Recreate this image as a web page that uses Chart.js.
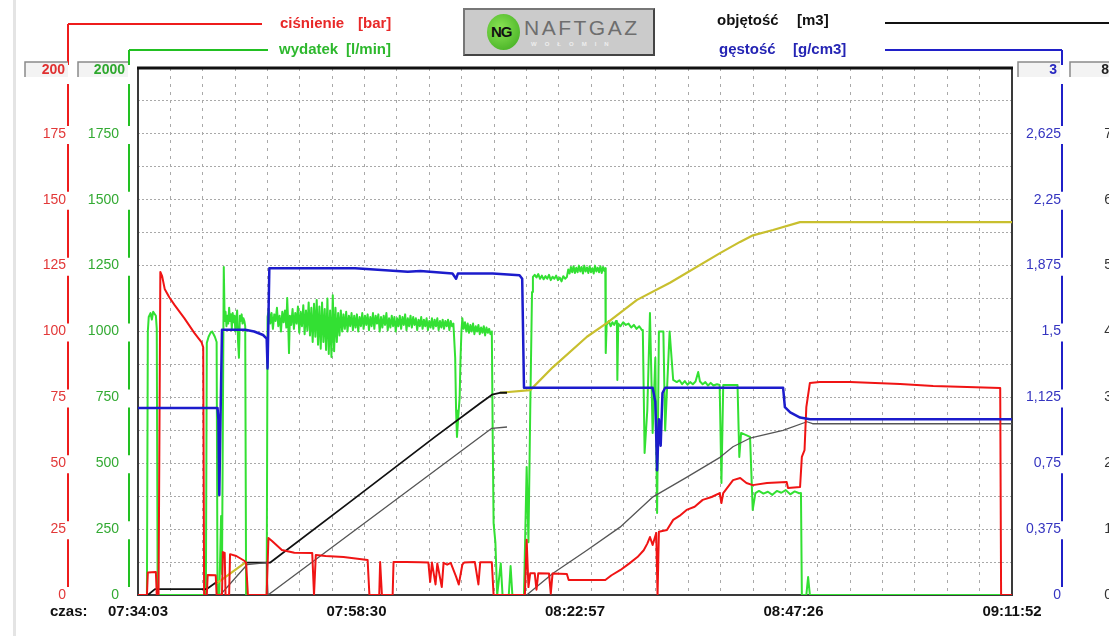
<!DOCTYPE html>
<html>
<head>
<meta charset="utf-8">
<script src="https://cdn.jsdelivr.net/npm/chart.js@4.4.1/dist/chart.umd.min.js"></script>
<style>
html, body { margin: 0; padding: 0; background: #fff; overflow: hidden; width: 1109px; height: 636px; }
#wrap { position: relative; width: 1130px; height: 636px; }
#edge { position: absolute; left: 13px; top: 0; width: 3px; height: 636px; background: #e4e4e4; }
canvas { position: absolute; left: 0; top: 0; }
#logo { position: absolute; left: 463px; top: 8px; width: 188px; height: 44px; background: #cbcbcb;
        border: 2px solid #444; border-top-color: #777; border-left-color: #777; z-index: 2; }
#ball { position: absolute; left: 22px; top: 4px; width: 33px; height: 36px; border-radius: 50%;
        background: radial-gradient(circle at 40% 40%, #8be455, #3aa81c); }
#ball b { position: absolute; left: 4px; top: 9px; font: bold 15px Arial, "Liberation Sans", sans-serif; color: #111; letter-spacing: -1px; }
#brand { position: absolute; left: 59px; top: 6px; font: 21px Arial, "Liberation Sans", sans-serif; color: #6e6e6e; letter-spacing: 2.5px; }
#town { position: absolute; left: 66px; top: 31px; font: bold 6px Arial, "Liberation Sans", sans-serif; color: #eee; letter-spacing: 8px; }
</style>
</head>
<body>
<div id="wrap">
  <div id="edge"></div>
  <canvas id="chart" width="1130" height="636"></canvas>
  <div id="logo">
    <div id="ball"><b>NG</b></div>
    <div id="brand">NAFTGAZ</div>
    <div id="town">WOŁOMIN</div>
  </div>
</div>
<script>
// time axis: minutes since 07:34:03, labels at the quarters
var span = 97.82;
var timeLabels = ['07:34:03', '07:58:30', '08:22:57', '08:47:26', '09:11:52'];

var pressureTicks = [0, 25, 50, 75, 100, 125, 150, 175];
var flowTicks = [0, 250, 500, 750, 1000, 1250, 1500, 1750];
var densityTicks = [0, 0.375, 0.75, 1.125, 1.5, 1.875, 2.25, 2.625];
var volumeTicks = [0, 1, 2, 3, 4, 5, 6, 7];

// ciśnienie [bar]
var pressure = [
    [0, 0], [1.0, 0], [1.1, 8.5], [2.0, 8.7], [2.1, 0], [2.3, 0], [2.5, 122.6], [2.7, 121], [3.0, 116],
    [3.5, 113], [4.1, 110], [5.2, 105], [6.3, 99.5], [7.1, 96], [7.3, 94], [7.4, 0], [7.7, 0],
    [7.8, 7.6], [8.7, 7.5], [8.8, 0], [9.4, 0], [9.5, 16.3], [9.7, 16], [9.8, 0], [10.2, 0],
    [10.3, 15.5], [11.0, 14.8], [11.9, 13], [12.1, 12.3], [12.3, 0], [14.4, 0], [14.6, 21.6],
    [15.0, 20.5], [16.1, 17.1], [17.5, 16], [19.5, 15.9], [19.7, 0], [19.9, 15.2], [21, 14.8],
    [23, 14.4], [25.7, 13.3], [25.9, 0], [27.0, 0], [27.1, 12.5], [27.3, 0], [28.5, 0], [28.6, 12.5],
    [30, 12.5], [31.6, 12.4], [32.5, 12.3], [32.7, 5], [32.9, 12.3], [33.3, 4], [33.5, 12],
    [34.0, 3], [34.2, 12.2], [34.6, 11.5], [35.0, 12.2], [35.6, 7], [35.9, 4], [36.3, 11.5],
    [36.5, 12.3], [37.7, 12.5], [38.1, 4], [38.3, 12.4], [39.6, 12.4], [39.8, 0], [43.3, 0],
    [43.5, 21], [43.7, 3], [43.9, 8.3], [44.4, 8.3], [44.6, 2], [44.8, 8.3], [46.0, 8.2],
    [46.2, 0.5], [46.4, 8.2], [48.0, 8], [48.2, 5.7], [50, 5.7], [52.3, 5.7], [53.0, 7.5],
    [54, 9.5], [55, 12], [55.9, 14.4], [56.6, 17], [57.0, 19.5], [57.3, 22], [57.6, 19], [58.0, 23.5],
    [58.15, 0], [58.3, 24], [59.2, 24.7], [59.9, 28.5], [60.6, 30], [61.4, 32.3], [62.3, 33.5],
    [63.2, 36.1], [64.2, 37.2], [65.1, 38.7], [65.3, 34.9], [65.5, 38.7], [66.6, 43.6], [67.4, 44.4],
    [68.1, 42.5], [68.8, 41.7], [70.4, 42.5], [72.6, 42.9], [72.75, 40.6], [74.1, 41], [74.3, 52.4],
    [74.6, 55], [74.8, 71.3], [75.2, 80.5], [76.3, 80.8], [79.7, 80.8], [85.3, 80.1], [89.0, 79.3],
    [92.8, 78.9], [96.5, 78.6], [96.6, 0], [97.82, 0]
];

// wydatek [l/min]
var flow = [
    [0, 0], [1.0, 0], [1.1, 1000], [1.2, 1055], [1.4, 1070], [1.55, 1045], [1.7, 1075], [2.0, 1060],
    [2.1, 1010], [2.2, 0], [7.6, 0], [7.7, 956], [7.9, 980], [8.1, 994], [8.3, 1000], [8.6, 980],
    [8.8, 960], [8.9, 0], [9.1, 0], [9.3, 300], [9.4, 80], [9.6, 1245],
    [9.7, 1040], [9.8, 1075], [9.9, 1020], [10.0, 1060], [10.1, 1030], [10.2, 1090], [10.3, 1040],
    [10.4, 1065], [10.5, 1010], [10.6, 1070], [10.7, 1035], [10.8, 1060], [10.9, 1000], [11.0, 1050],
    [11.1, 1080], [11.2, 960], [11.3, 900], [11.4, 1060], [11.5, 1040], [11.6, 1065], [11.7, 1030],
    [11.8, 1050], [11.9, 1040], [12.0, 1020], [12.1, 0], [14.4, 0],
    [14.5, 1055], [14.65, 1085], [14.8, 1030], [14.95, 1070], [15.1, 1010], [15.25, 1065],
    [15.4, 1040], [15.55, 1090], [15.7, 1020], [15.85, 1060], [16.0, 1000], [16.15, 1075],
    [16.3, 1035], [16.45, 1080], [16.6, 1015], [16.7, 1127], [16.8, 1040], [16.9, 918], [17.0, 1060],
    [17.15, 1025], [17.3, 1085], [17.45, 1010], [17.6, 1070], [17.75, 1030], [17.9, 1095],
    [18.05, 995], [18.2, 1075], [18.35, 1020], [18.5, 1100], [18.65, 990], [18.8, 1080], [18.95, 1005],
    [19.1, 1110], [19.25, 985], [19.4, 1090], [19.55, 960], [19.7, 1105], [19.85, 980], [20.0, 1120],
    [20.15, 950], [20.3, 1095], [20.45, 935], [20.6, 1110], [20.75, 960], [20.9, 1085], [21.05, 930],
    [21.2, 1125], [21.35, 915], [21.5, 1080], [21.65, 903], [21.8, 1138], [21.95, 925], [22.1, 1090],
    [22.25, 960], [22.4, 1070], [22.55, 985], [22.7, 1080], [22.85, 1000], [23.0, 1065], [23.15, 1010],
    [23.3, 1075], [23.45, 1000], [23.6, 1060], [23.75, 1020], [23.9, 1070], [24.05, 1005], [24.2, 1060],
    [24.35, 1015], [24.5, 1065], [24.65, 1000], [24.8, 1055], [24.95, 1020], [25.1, 1070], [25.25, 1010],
    [25.4, 1060], [25.55, 1025], [25.7, 1065], [25.85, 1005], [26.0, 1055], [26.15, 1020], [26.3, 1070],
    [26.45, 1010], [26.6, 1060], [26.75, 1030], [26.9, 1065], [27.05, 1000], [27.2, 1055], [27.35, 1015],
    [27.5, 1060], [27.65, 1025], [27.8, 1070], [27.95, 1005], [28.1, 1050], [28.25, 1015], [28.4, 1060],
    [28.55, 1020], [28.7, 1055], [28.85, 1000], [29.0, 1050], [29.15, 1020], [29.3, 1060], [29.45, 1010],
    [29.6, 1055], [29.75, 1025], [29.9, 1065], [30.05, 1005], [30.2, 1050], [30.35, 1020], [30.5, 1060],
    [30.65, 1015], [30.8, 1055], [30.95, 1025], [31.1, 1050], [31.25, 1005], [31.4, 1045], [31.55, 1020],
    [31.7, 1055], [31.85, 1010], [32.0, 1045], [32.15, 1020], [32.3, 1050], [32.45, 1005], [32.6, 1040],
    [32.75, 1015], [32.9, 1050], [33.05, 1010], [33.2, 1045], [33.35, 1020], [33.5, 1050], [33.65, 1005],
    [33.8, 1040], [33.95, 1015], [34.1, 1045], [34.25, 1010], [34.4, 1040], [34.55, 1020], [34.7, 1045],
    [34.85, 1005], [35.0, 1040], [35.15, 1020], [35.3, 1030], [35.5, 900], [35.6, 700], [35.7, 600],
    [35.85, 680], [36.0, 750], [36.1, 900], [36.2, 1000], [36.3, 1050], [36.45, 1010], [36.6, 1035],
    [36.75, 1000], [36.9, 1030], [37.05, 995], [37.2, 1025], [37.35, 1000], [37.5, 1030], [37.65, 990],
    [37.8, 1020], [37.95, 1000], [38.1, 1025], [38.25, 990], [38.4, 1015], [38.55, 995], [38.7, 1020],
    [38.85, 985], [39.0, 1015], [39.15, 995], [39.3, 1010], [39.45, 990], [39.6, 1000], [39.7, 600],
    [39.8, 273], [40.0, 200], [40.2, 0], [40.6, 120], [40.8, 0], [41.5, 0], [41.7, 110], [41.9, 0],
    [43.2, 0], [43.5, 486], [43.7, 200], [43.9, 700], [44.1, 1150],
    [44.2, 1207], [44.4, 1215], [44.6, 1205], [44.8, 1218], [45.0, 1200], [45.2, 1212], [45.4, 1198],
    [45.6, 1210], [45.8, 1200], [46.0, 1215], [46.2, 1195], [46.4, 1208], [46.6, 1200], [46.8, 1212],
    [47.0, 1195], [47.2, 1205], [47.4, 1190], [47.6, 1210], [47.8, 1200], [48.0, 1207], [48.15, 1235],
    [48.3, 1220], [48.45, 1245], [48.6, 1225], [48.75, 1248], [48.9, 1222], [49.05, 1242], [49.2, 1225],
    [49.35, 1250], [49.5, 1228], [49.65, 1245], [49.8, 1220], [49.95, 1250], [50.1, 1228], [50.25, 1243],
    [50.4, 1222], [50.55, 1248], [50.7, 1225], [50.85, 1240], [51.0, 1220], [51.15, 1250], [51.3, 1228],
    [51.45, 1242], [51.6, 1225], [51.75, 1248], [51.9, 1222], [52.05, 1245], [52.2, 1230], [52.3, 1240],
    [52.35, 918], [52.45, 1025], [52.7, 1040], [52.9, 1020], [53.1, 1035], [53.3, 1025], [53.5, 1040],
    [53.6, 1032], [53.65, 816], [53.75, 1030], [54.0, 1020], [54.3, 1035], [54.6, 1025], [54.9, 1030],
    [55.2, 1015], [55.5, 1025], [55.8, 1010], [56.1, 1020], [56.4, 1005], [56.5, 1006], [56.7, 539],
    [57.0, 700], [57.3, 1070], [57.6, 615], [57.9, 900], [58.1, 311], [58.3, 1000], [58.8, 1000],
    [59.0, 624], [59.5, 1000], [59.9, 816], [60.3, 808], [60.6, 815], [60.9, 800], [61.2, 812],
    [61.5, 798], [61.8, 808], [62.1, 800], [62.4, 810], [62.7, 846], [62.9, 810], [63.2, 800],
    [63.5, 808], [63.8, 795], [64.1, 805], [64.4, 795], [64.8, 800], [65.1, 797], [65.3, 425],
    [65.5, 797], [67.1, 797], [67.3, 524], [67.5, 615], [68.5, 600], [68.8, 323], [69.1, 387],
    [69.5, 395], [70, 385], [70.5, 392], [71, 380], [71.5, 395], [72, 388], [72.5, 398], [73, 382],
    [73.5, 393], [74, 386], [74.2, 387], [74.3, 0], [74.8, 0], [75.0, 68], [75.2, 0], [97.82, 0]
];

// gęstość [g/cm3]
var density = [
    [0, 1.065], [8.9, 1.065], [9.0, 1.0], [9.1, 0.57], [9.2, 0.9], [9.4, 1.51], [12.0, 1.51],
    [13, 1.50], [14, 1.48], [14.4, 1.46], [14.5, 1.29], [14.7, 1.86], [24.3, 1.86], [26.0, 1.855],
    [30.2, 1.84], [31.6, 1.845], [35.2, 1.83], [35.6, 1.80], [35.8, 1.83], [39.7, 1.83],
    [42.7, 1.82], [43.0, 1.80], [43.2, 1.18], [53.9, 1.18], [57.6, 1.18], [57.9, 1.10],
    [58.1, 0.71], [58.3, 1.0], [58.5, 0.85], [58.7, 1.15], [59, 1.18], [72.2, 1.18], [72.4, 1.07],
    [73.0, 1.04], [74.1, 1.01], [75.2, 1.0], [97.82, 1.0]
];

// objętość [m3]
var volume = [
    [0, 0], [1.1, 0], [1.9, 0.09], [7.7, 0.09], [8.84, 0.2], [8.9, null], [12.2, 0.49],
    [14.77, 0.49], [23.7, 1.41], [33.24, 2.40], [38.3, 2.91], [39.62, 3.04], [40.5, 3.07], [41.3, 3.07]
];
var volumeStage = [
    [9.2, 0], [12.2, 0.46], [14.4, 0.49], [14.55, 0], [39.6, 2.53], [41.3, 2.55], [41.4, null],
    [43.5, 0], [46.45, 0.33], [50.25, 0.68], [53.95, 1.03], [57.64, 1.49], [61.44, 1.79],
    [65.14, 2.09], [66.59, 2.25], [68.49, 2.38], [72.19, 2.50], [74.87, 2.63], [75.5, 2.60],
    [97.82, 2.60]
];
var volumeTotal = [
    [8.84, 0.18], [12.0, 0.49], [12.1, null], [40.5, 3.07], [43.9, 3.11], [46.45, 3.46],
    [50.25, 3.92], [52.5, 4.13], [55.85, 4.48], [59.54, 4.74], [65.14, 5.19], [67.38, 5.36],
    [68.83, 5.46], [71.07, 5.54], [74.09, 5.66], [97.82, 5.66]
];

var FONT = 'Arial, "Liberation Sans", sans-serif';

function xy(list) {
    return list.map(function (p) { return {x: p[0], y: p[1]}; });
}

function line(data, color, width, axis) {
    return {
        data: xy(data), yAxisID: axis, borderColor: color, borderWidth: width,
        pointRadius: 0, tension: 0, fill: false, borderJoinStyle: 'round'
    };
}

function axisLine(ctx, x, yTop, yBottom, gaps, color) {
    ctx.strokeStyle = color;
    ctx.lineWidth = 2;
    ctx.beginPath();
    var y = yTop;
    gaps.sort(function (a, b) { return a[0] - b[0]; }).forEach(function (g) {
        if (g[0] > y) { ctx.moveTo(x, y); ctx.lineTo(x, g[0]); }
        y = Math.max(y, g[1]);
    });
    if (yBottom > y) { ctx.moveTo(x, y); ctx.lineTo(x, yBottom); }
    ctx.stroke();
}

function topBox(ctx, right, w, top, text, color) {
    ctx.fillStyle = '#f3f3f3';
    ctx.fillRect(right - w, top - 6, w, 15);
    ctx.strokeStyle = '#8a8a8a';
    ctx.lineWidth = 1.5;
    ctx.beginPath();
    ctx.moveTo(right - w, top + 9);
    ctx.lineTo(right - w, top - 6);
    ctx.lineTo(right, top - 6);
    ctx.stroke();
    ctx.fillStyle = color;
    ctx.font = 'bold 14px ' + FONT;
    ctx.textAlign = 'right';
    ctx.textBaseline = 'middle';
    ctx.fillText(text, right - 3, top + 2);
}

var decor = {
    id: 'decor',
    beforeDatasetsDraw: function (chart) {
        var ctx = chart.ctx, a = chart.chartArea;
        ctx.save();
        ctx.strokeStyle = '#3a3a3a';
        ctx.lineWidth = 2;
        ctx.strokeRect(a.left, a.top, a.right - a.left, a.bottom - a.top);
        ctx.strokeStyle = '#111';
        ctx.lineWidth = 3;
        ctx.beginPath();
        ctx.moveTo(a.left - 1, a.top);
        ctx.lineTo(a.right + 1, a.top);
        ctx.stroke();
        ctx.restore();
    },
    afterDraw: function (chart) {
        var ctx = chart.ctx, a = chart.chartArea, s = chart.scales;
        ctx.save();
        var axes = [
            {sc: s.yP, x: s.yP.right - 2, ticks: pressureTicks, color: '#ee1c1c', head: 24, hx: 262},
            {sc: s.yF, x: s.yF.right - 9, ticks: flowTicks, color: '#22c022', head: 50, hx: 268},
            {sc: s.yD, x: s.yD.right + 1, ticks: densityTicks, color: '#2020c8', head: 50, hx: 885},
            {sc: s.yV, x: s.yV.right + 1, ticks: volumeTicks, color: '#111', head: 23, hx: 885}
        ];
        axes.forEach(function (ax) {
            var gaps = ax.ticks.map(function (v) {
                var py = ax.sc.getPixelForValue(v);
                return [py - 8, py + 10];
            });
            gaps.push([a.top - 3, a.top + 16]);
            axisLine(ctx, ax.x, ax.head, a.bottom, gaps, ax.color);
            ctx.beginPath();
            ctx.moveTo(ax.x, ax.head);
            ctx.lineTo(ax.hx, ax.head);
            ctx.stroke();
        });

        topBox(ctx, s.yP.right - 2, 43, a.top, '200', '#e03030');
        topBox(ctx, s.yF.right - 10, 50, a.top, '2000', '#2ea82e');
        topBox(ctx, s.yD.right - 1, 42, a.top, '3', '#2828c0');
        topBox(ctx, s.yV.right, 42, a.top, '8', '#222');

        ctx.font = 'bold 15px ' + FONT;
        ctx.textAlign = 'left';
        ctx.textBaseline = 'middle';
        ctx.fillStyle = '#e82828';
        ctx.fillText('ciśnienie', 280, 24);
        ctx.fillText('[bar]', 358, 24);
        ctx.fillStyle = '#2db82d';
        ctx.fillText('wydatek', 279, 50);
        ctx.fillText('[l/min]', 346, 50);
        ctx.fillStyle = '#111';
        ctx.fillText('objętość', 717, 21);
        ctx.fillText('[m3]', 797, 21);
        ctx.fillStyle = '#2424b4';
        ctx.fillText('gęstość', 719, 50);
        ctx.fillText('[g/cm3]', 793, 50);

        ctx.fillStyle = '#111';
        ctx.fillText('czas:', 50, a.bottom + 17);
        ctx.restore();
    }
};

var gridCols = 27;

var yBase = {
    type: 'linear', min: 0,
    border: {display: false},
    grid: {display: false}
};

new Chart(document.getElementById('chart'), {
    type: 'line',
    data: {
        datasets: [
            line(density, '#1c1ccc', 2.5, 'yD'),
            line(pressure, '#f01414', 2, 'yP'),
            line(volumeStage, '#555', 1.3, 'yV'),
            line(volume, '#111', 1.8, 'yV'),
            line(volumeTotal, '#c8bf2e', 2.2, 'yV'),
            line(flow, '#33e033', 2, 'yF')
        ]
    },
    options: {
        responsive: false,
        animation: false,
        events: [],
        layout: {padding: {top: 68, left: 0, right: 18, bottom: 0}},
        plugins: {legend: {display: false}, tooltip: {enabled: false}},
        scales: {
            x: {
                type: 'linear', min: 0, max: span,
                border: {display: false, dash: [3, 5]},
                grid: {
                    drawTicks: false, lineWidth: 1,
                    color: function (c) { return c.tick && c.tick.grid ? '#a9a9a9' : 'rgba(0,0,0,0)'; }
                },
                afterBuildTicks: function (scale) {
                    var t = [];
                    for (var i = 0; i <= gridCols; i++) t.push({value: span * i / gridCols, grid: true});
                    timeLabels.forEach(function (l, k) { t.push({value: span * k / 4, lab: l}); });
                    t.sort(function (p, q) { return p.value - q.value; });
                    scale.ticks = t;
                },
                afterFit: function (scale) { scale.height = 41; },
                ticks: {
                    autoSkip: false, maxRotation: 0, minRotation: 0, padding: 8,
                    color: '#111', font: {family: FONT, size: 15, weight: 'bold'},
                    callback: function (v, i, ticks) { return ticks[i].lab || ''; }
                }
            },
            yF: Object.assign({}, yBase, {
                position: 'left', max: 2000,
                afterFit: function (scale) { scale.width = 68; },
                ticks: {
                    stepSize: 250, padding: 11, color: '#33aa33', font: {family: FONT, size: 14},
                    callback: function (v) { return flowTicks.indexOf(v) >= 0 ? String(v) : ''; }
                }
            }),
            yP: Object.assign({}, yBase, {
                position: 'left', max: 200,
                grid: {display: true, drawTicks: false, color: '#a9a9a9', lineWidth: 1},
                border: {display: false, dash: [2, 2]},
                afterFit: function (scale) { scale.width = 70; },
                ticks: {
                    stepSize: 12.5, padding: 4, color: '#e23838', font: {family: FONT, size: 14},
                    callback: function (v) { return pressureTicks.indexOf(v) >= 0 ? String(v) : ''; }
                }
            }),
            yD: Object.assign({}, yBase, {
                position: 'right', max: 3,
                afterFit: function (scale) { scale.width = 49; },
                ticks: {
                    stepSize: 0.375, crossAlign: 'far', color: '#3535c0', font: {family: FONT, size: 14},
                    callback: function (v) { return densityTicks.indexOf(v) >= 0 ? String(v).replace('.', ',') : ''; }
                }
            }),
            yV: Object.assign({}, yBase, {
                position: 'right', max: 8,
                afterFit: function (scale) { scale.width = 51; },
                ticks: {
                    stepSize: 1, crossAlign: 'far', color: '#333', font: {family: FONT, size: 14},
                    callback: function (v) { return volumeTicks.indexOf(v) >= 0 ? String(v) : ''; }
                }
            })
        }
    },
    plugins: [decor]
});
</script>
</body>
</html>
